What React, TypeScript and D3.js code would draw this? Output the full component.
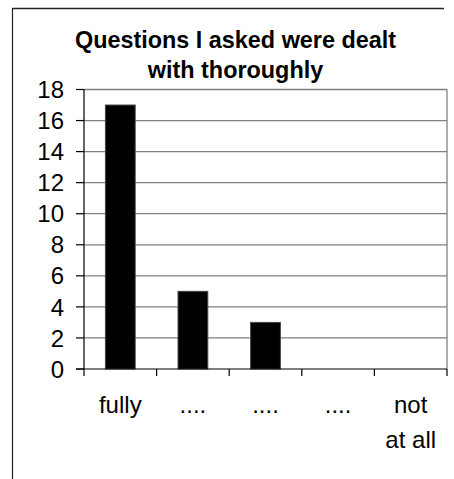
import React from "react";
import * as d3 from "d3";

const categories = ["fully", "....", "....", "....", "not\nat all"];
const values = [17, 5, 3, 0, 0];
const yTicks = [0, 2, 4, 6, 8, 10, 12, 14, 16, 18];
const titleLines = ["Questions I asked were dealt", "with thoroughly"];

const W = 454;
const H = 479;
const margin = { left: 84, right: 7, top: 89.5, bottom: 110 };
const FONT = "'Liberation Sans', Arial, sans-serif";

export default function App() {
  const x = d3
    .scaleBand<number>()
    .domain(d3.range(categories.length))
    .range([margin.left, W - margin.right])
    .paddingInner(0)
    .paddingOuter(0);
  const y = d3.scaleLinear().domain([0, 18]).range([H - margin.bottom, margin.top]);
  const barW = x.bandwidth() * 0.41;
  const x0 = margin.left;
  const x1 = W - margin.right;
  const y0 = y(0);

  return (
    <svg
      width={W}
      height={H}
      style={{ position: "absolute", left: 0, top: 0, background: "#fff" }}
      fontFamily={FONT}
    >
      {/* frame */}
      <line x1={12} y1={8.5} x2={444} y2={8.5} stroke="#222" strokeWidth={1.6} />
      <line x1={12.5} y1={8} x2={12.5} y2={H} stroke="#222" strokeWidth={1.2} />

      {/* title */}
      {titleLines.map((t, i) => (
        <text
          key={i}
          x={235.5}
          y={48 + i * 30}
          textAnchor="middle"
          fontSize={23.4}
          fontWeight="bold"
          fill="#000"
        >
          {t}
        </text>
      ))}

      {/* gridlines */}
      {yTicks.filter((t) => t > 0).map((t) => (
        <line key={t} x1={x0} x2={x1} y1={y(t)} y2={y(t)} stroke="#808080" strokeWidth={1.3} />
      ))}
      {/* right plot border */}
      <line x1={x1} x2={x1} y1={y(18)} y2={y0} stroke="#808080" strokeWidth={1.3} />

      {/* bars */}
      {values.map((v, i) =>
        v > 0 ? (
          <rect
            key={i}
            x={(x(i) as number) + x.bandwidth() / 2 - barW / 2}
            y={y(v)}
            width={barW}
            height={y0 - y(v)}
            fill="#000"
            stroke="#444"
            strokeWidth={1}
          />
        ) : null
      )}

      {/* y axis */}
      <line x1={x0} x2={x0} y1={y(18)} y2={y0} stroke="#000" strokeWidth={1.2} />
      {yTicks.map((t) => (
        <g key={t}>
          <line x1={x0 - 8} x2={x0} y1={y(t)} y2={y(t)} stroke="#000" strokeWidth={1.2} />
          <text x={64} y={y(t)} dy="0.36em" textAnchor="end" fontSize={24} fill="#000">
            {t}
          </text>
        </g>
      ))}

      {/* x axis */}
      <line x1={x0 - 8} x2={x1} y1={y0} y2={y0} stroke="#000" strokeWidth={1.2} />
      {d3.range(categories.length + 1).map((i) => {
        const xx = i < categories.length ? (x(i) as number) : x1;
        return <line key={i} x1={xx} x2={xx} y1={y0} y2={y0 + 7} stroke="#000" strokeWidth={1.2} />;
      })}
      {categories.map((c, i) => (
        <text key={i} textAnchor="middle" fontSize={24} fill="#000">
          {c.split("\n").map((ln, j) => (
            <tspan key={j} x={(x(i) as number) + x.bandwidth() / 2} y={413 + j * 34.5}>
              {ln}
            </tspan>
          ))}
        </text>
      ))}
    </svg>
  );
}
